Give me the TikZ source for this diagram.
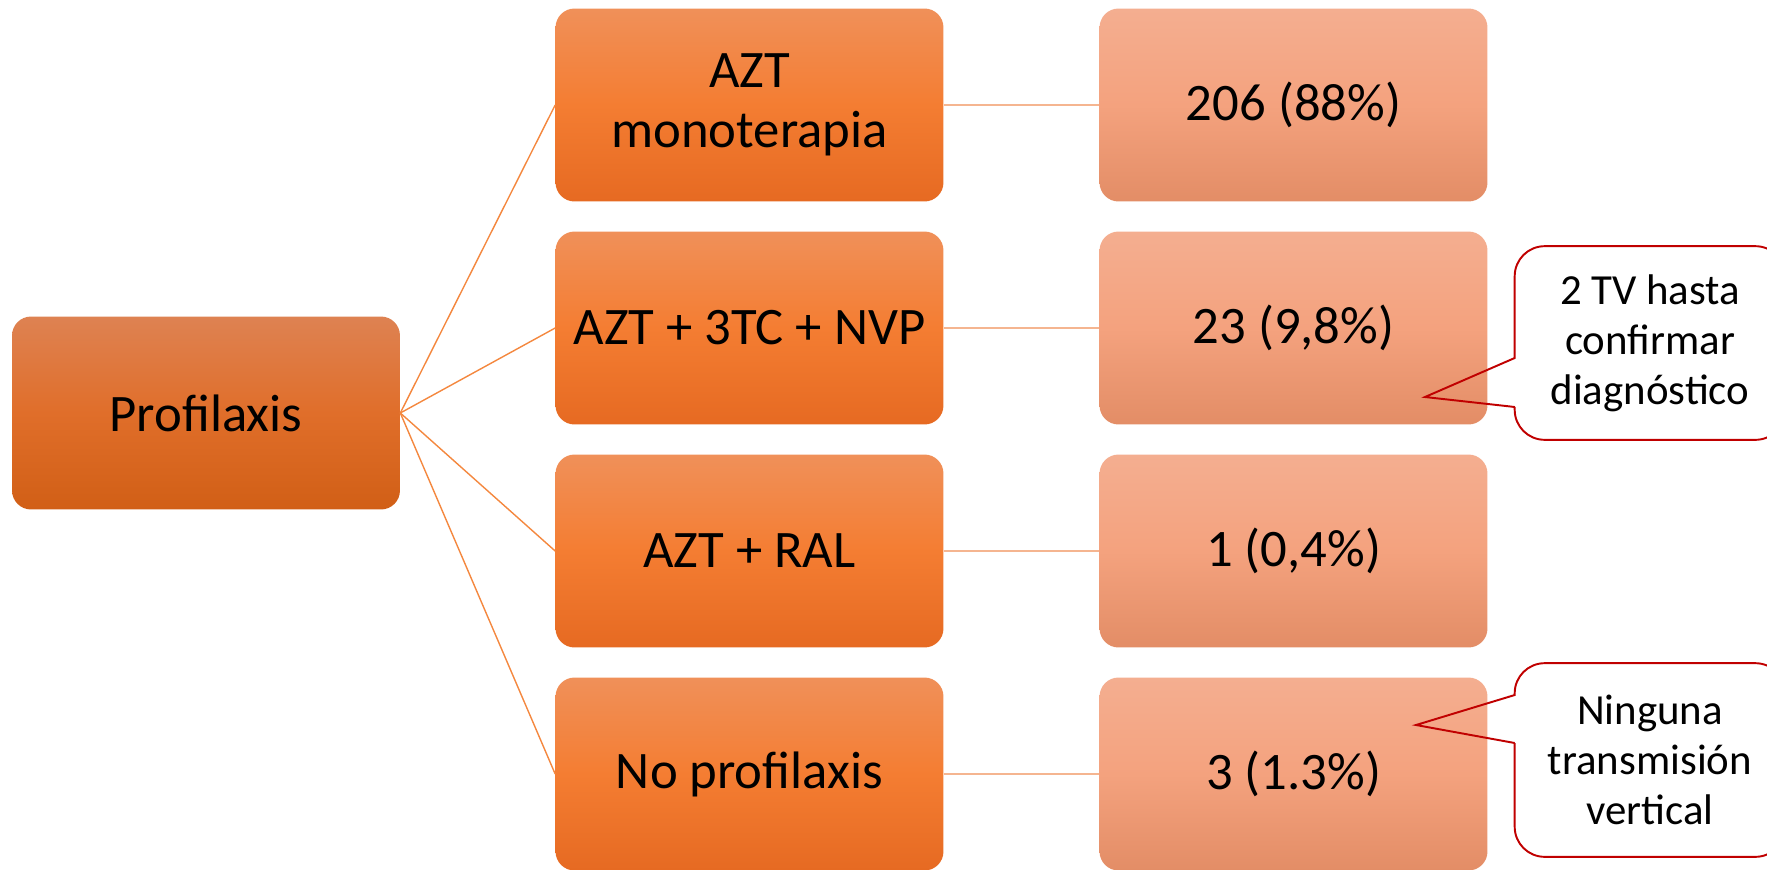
\documentclass[tikz,border=0pt]{standalone}
\usepackage{fontspec}
\setmainfont{Carlito}

\definecolor{raiztop}{HTML}{DE8252}
\definecolor{raizmid}{HTML}{E06E2A}
\definecolor{raizbot}{HTML}{D15F16}
\definecolor{tratop}{HTML}{F09059}
\definecolor{tramid}{HTML}{F47D32}
\definecolor{trabot}{HTML}{E66A22}
\definecolor{numtop}{HTML}{F4AE90}
\definecolor{nummid}{HTML}{F4A27E}
\definecolor{numbot}{HTML}{E38D66}
\definecolor{ramal}{HTML}{F4883F}
\definecolor{enlace}{HTML}{F5B590}
\definecolor{globo}{HTML}{C00000}

\tikzset{
    caja/.style={rounded corners=0.38cm, inner sep=0pt, align=center,
        minimum width=7.76cm, minimum height=3.86cm,
        font=\fontsize{30}{34.5}\selectfont},
    raiz/.style={caja, top color=raiztop, bottom color=raizbot, middle color=raizmid},
    trat/.style={caja, top color=tratop, bottom color=trabot, middle color=tramid},
    cifra/.style={caja, top color=numtop, bottom color=numbot, middle color=nummid},
    nota/.style={inner sep=0pt, align=center, minimum width=5.4cm, minimum height=3.86cm,
        font=\fontsize{24.4}{28.5}\selectfont},
    globoline/.style={draw=globo, line width=1.1pt, line join=miter}
}

\begin{document}
\begin{tikzpicture}[x=0.02cm, y=-0.02cm]
    \useasboundingbox (0,0) rectangle (1767,869);
    %draw boxes
    \node[raiz] (profilaxis) at (206,413) {Profilaxis};
    \foreach \i/\y/\txt/\num in {1/105/{AZT\\monoterapia}/{206 (88\%)},
                                 2/328/{AZT + 3TC + NVP}/{23 (9,8\%)},
                                 3/551/{AZT + RAL}/{1 (0,4\%)},
                                 4/774/{No profilaxis}/{3 (1.3\%)}}
        {%
            \node[trat] (t\i) at (749.5,\y) {\txt};
            \node[cifra] (n\i) at (1293.5,\y) {\num};
        }
    %draw lines
    \foreach \i in {1,2,3,4}
        {%
            \draw[ramal, line width=0.8pt] (profilaxis.east) -- (t\i.west);
            \draw[enlace, line width=0.8pt] (t\i.east) -- (n\i.west);
        }
    %draw notes
    \node[nota] (c1) at (1650,343) {2 TV hasta\\confirmar\\diagnóstico};
    \node[nota] (c2) at (1650,760) {Ninguna\\transmisión\\vertical};
    \coordinate (p1) at (1425,397);
    \coordinate (p2) at (1416,725);
    \draw[globoline] ([yshift=-1.28cm]c1.west) -- (p1) -- ([yshift=-0.3cm]c1.west)
        [rounded corners=0.6cm] -- (c1.north west) -- (c1.north east) -- (c1.south east)
        -- (c1.south west) [sharp corners] -- ([yshift=-1.28cm]c1.west);
    \draw[globoline] ([yshift=0.34cm]c2.west) -- (p2) -- ([yshift=1.3cm]c2.west)
        [rounded corners=0.6cm] -- (c2.north west) -- (c2.north east) -- (c2.south east)
        -- (c2.south west) [sharp corners] -- ([yshift=0.34cm]c2.west);
\end{tikzpicture}
\end{document}
